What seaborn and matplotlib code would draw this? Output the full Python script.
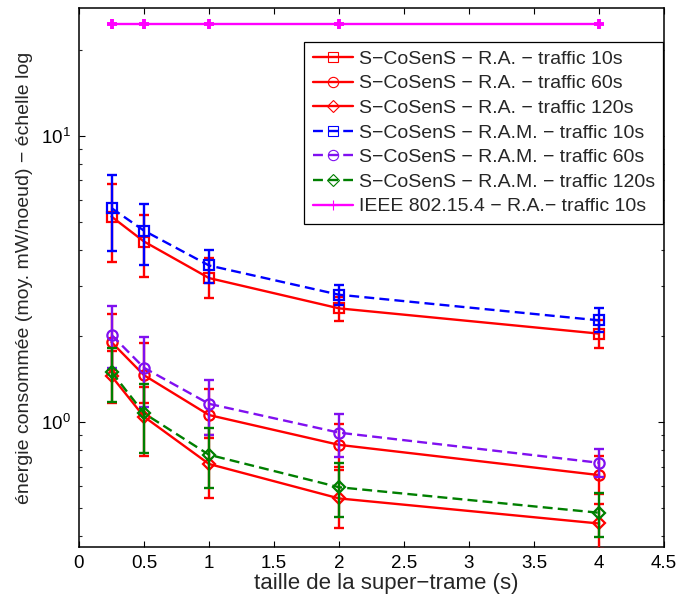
import numpy as np
import matplotlib
matplotlib.use("Agg")
import matplotlib.pyplot as plt
from matplotlib.ticker import FixedLocator, FormatStrFormatter, LogLocator, NullFormatter
import seaborn as sns

# ---- data ----
frame_sizes = [0.25, 0.5, 1, 2, 4]

ra10_mean = [5.23, 4.28, 3.19, 2.50, 2.04]
ra10_low = [3.64, 3.21, 2.71, 2.26, 1.82]
ra10_high = [6.79, 5.31, 3.75, 2.75, 2.27]

ra60_mean = [1.905, 1.46, 1.06, 0.834, 0.654]
ra60_low = [1.52, 1.17, 0.88, 0.70, 0.56]
ra60_high = [2.39, 1.89, 1.31, 0.99, 0.76]

ra120_mean = [1.45, 1.046, 0.715, 0.542, 0.443]
ra120_low = [1.165, 0.763, 0.545, 0.426, 0.36]
ra120_high = [1.78, 1.33, 0.90, 0.68, 0.52]

ram10_mean = [5.60, 4.67, 3.53, 2.79, 2.27]
ram10_low = [3.95, 3.53, 3.06, 2.57, 2.06]
ram10_high = [7.28, 5.78, 4.00, 3.02, 2.50]

ram60_mean = [2.02, 1.55, 1.16, 0.92, 0.722]
ram60_low = [1.55, 1.13, 0.903, 0.758, 0.645]
ram60_high = [2.55, 1.98, 1.41, 1.066, 0.805]

ram120_mean = [1.50, 1.075, 0.77, 0.593, 0.483]
ram120_low = [1.18, 0.783, 0.588, 0.468, 0.398]
ram120_high = [1.82, 1.36, 0.955, 0.72, 0.565]

ieee_mean = [24.7, 24.7, 24.7, 24.7, 24.7]

labels = [
    "S\u2212CoSenS \u2212 R.A. \u2212 traffic 10s",
    "S\u2212CoSenS \u2212 R.A. \u2212 traffic 60s",
    "S\u2212CoSenS \u2212 R.A. \u2212 traffic 120s",
    "S\u2212CoSenS \u2212 R.A.M. \u2212 traffic 10s",
    "S\u2212CoSenS \u2212 R.A.M. \u2212 traffic 60s",
    "S\u2212CoSenS \u2212 R.A.M. \u2212 traffic 120s",
    "IEEE 802.15.4 \u2212 R.A.\u2212 traffic 10s",
]
x_ticks = [0, 0.5, 1, 1.5, 2, 2.5, 3, 3.5, 4, 4.5]

# ---- style ----
sns.set_style("white")
plt.rcParams["font.family"] = ["Liberation Sans", "DejaVu Sans"]
plt.rcParams["mathtext.fontset"] = "custom"
plt.rcParams["mathtext.rm"] = "Liberation Sans"
plt.rcParams["mathtext.it"] = "Liberation Sans"

fig = plt.figure(figsize=(6.78, 5.96), dpi=100)
ax = fig.add_axes([79 / 678, 1 - 547 / 596, (664 - 79) / 678, (547 - 8) / 596])

LW = 1.7
dash = (4.2, 2.2)
series = [
    (ra10_mean, ra10_low, ra10_high, "#ff0000", "s", None),
    (ra60_mean, ra60_low, ra60_high, "#ff0000", "o", None),
    (ra120_mean, ra120_low, ra120_high, "#ff0000", "D", None),
    (ram10_mean, ram10_low, ram10_high, "#0000ff", "s", dash),
    (ram60_mean, ram60_low, ram60_high, "#8010f0", "o", dash),
    (ram120_mean, ram120_low, ram120_high, "#007f00", "D", dash),
]

for i, (m, lo, hi, c, mk, ds) in enumerate(series):
    ms = 6.5 if mk == "D" else 7.4
    sns.lineplot(x=frame_sizes, y=m, ax=ax, color=c, marker=mk, markersize=ms,
                 markeredgewidth=1.6, markeredgecolor=c, markerfacecolor="none",
                 linewidth=LW, label=labels[i], errorbar=None, zorder=2 + i)
    line = ax.lines[-1]
    if ds is not None:
        line.set_dashes(ds)
    m_arr = np.array(m)
    yerr = [m_arr - np.array(lo), np.array(hi) - m_arr]
    ax.errorbar(frame_sizes, m, yerr=yerr, fmt="none", ecolor=c, elinewidth=LW,
                capsize=3.8, capthick=LW, zorder=2 + i)

sns.lineplot(x=frame_sizes, y=ieee_mean, ax=ax, color="#ff00ff", marker="+",
             markersize=7, markeredgewidth=2.8, markeredgecolor="#ff00ff",
             linewidth=LW, label=labels[6], errorbar=None, zorder=9)

ax.set_yscale("log")
ax.set_xlim(0, 4.5)
ax.set_ylim(0.3667, 28.0)
ax.xaxis.set_major_locator(FixedLocator(x_ticks))
ax.xaxis.set_major_formatter(FormatStrFormatter("%g"))
ax.yaxis.set_major_locator(LogLocator(base=10, numticks=10))
ax.yaxis.set_minor_locator(LogLocator(base=10, subs=np.arange(2, 10), numticks=10))
ax.yaxis.set_minor_formatter(NullFormatter())
ax.tick_params(which="major", direction="in", length=4.5, width=0.8,
               top=True, right=True, left=True, bottom=True,
               labelsize=13.5, pad=6, colors="black")
ax.tick_params(which="minor", direction="in", length=2.5, width=0.8,
               top=True, right=True, left=True, bottom=True)
for sp in ax.spines.values():
    sp.set_visible(True)
    sp.set_linewidth(1.1)
    sp.set_color("black")

ax.set_xlabel("taille de la super\u2212trame (s)", fontsize=16)
ax.xaxis.set_label_coords((386 - 79) / 585, -0.067, transform=ax.transAxes)
ax.xaxis.label.set_va("center")
ax.set_ylabel("\u00e9nergie consomm\u00e9e (moy. mW/noeud) \u2212 \u00e9chelle log",
              fontsize=14, labelpad=6)

leg = ax.legend(loc="upper right", bbox_to_anchor=(0.998, 0.937), borderaxespad=0,
                fontsize=14, frameon=True, fancybox=False, edgecolor="black",
                handlelength=2.1, handletextpad=0.26, labelspacing=0.36,
                borderpad=0.42)
leg.get_frame().set_linewidth(0.9)
leg.get_frame().set_alpha(1)
for h in leg.legend_handles:
    try:
        h.set_markeredgewidth(0.8)
    except Exception:
        pass

fig.savefig("out.png", dpi=100)
